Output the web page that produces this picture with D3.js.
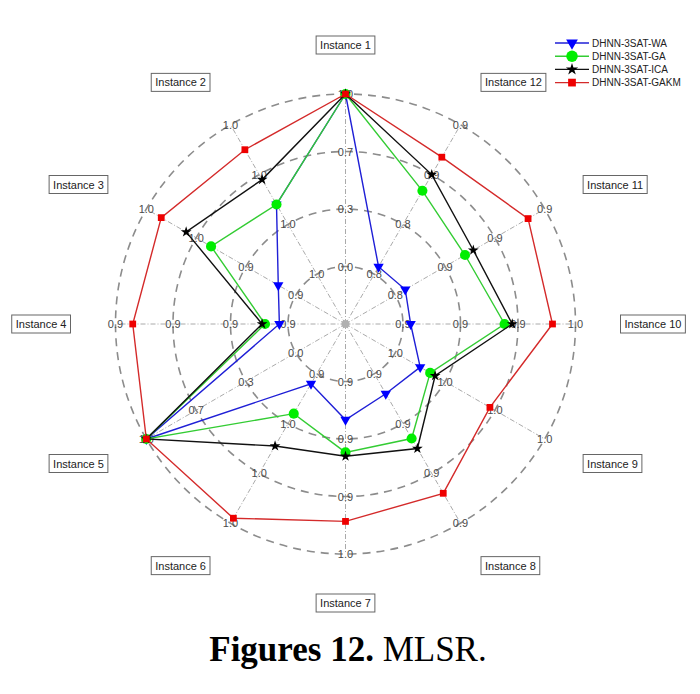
<!DOCTYPE html>
<html>
<head>
<meta charset="utf-8">
<script src="https://cdn.jsdelivr.net/npm/d3@7"></script>
<style>
  body { margin: 0; background: #fff; }
  text { font-family: "Liberation Sans", Arial, sans-serif; }
</style>
</head>
<body>
<svg></svg>
<script>
/* data */
var instances = ["Instance 1", "Instance 2", "Instance 3", "Instance 4", "Instance 5", "Instance 6",
                 "Instance 7", "Instance 8", "Instance 9", "Instance 10", "Instance 11", "Instance 12"];
var axisMin = [0.00, 0.97, 0.92, 0.88, 0.00, 0.94, 0.87, 0.86, 0.97, 0.88, 0.84, 0.78];
var axisMax = [1.00, 1.00, 0.98, 0.94, 1.00, 1.00, 0.96, 0.92, 1.00, 0.97, 0.93, 0.90];
var tickLabels = [
  ["0.0", "0.3", "0.7", "1.0"],
  ["1.0", "1.0", "1.0", "1.0"],
  ["0.9", "0.9", "1.0", "1.0"],
  ["0.9", "0.9", "0.9", "0.9"],
  ["0.0", "0.3", "0.7", "1.0"],
  ["0.9", "1.0", "1.0", "1.0"],
  ["0.9", "0.9", "0.9", "1.0"],
  ["0.9", "0.9", "0.9", "0.9"],
  ["1.0", "1.0", "1.0", "1.0"],
  ["0.9", "0.9", "0.9", "1.0"],
  ["0.8", "0.9", "0.9", "0.9"],
  ["0.8", "0.8", "0.9", "0.9"]
];
var seriesNames = ["DHNN-3SAT-WA", "DHNN-3SAT-GA", "DHNN-3SAT-ICA", "DHNN-3SAT-GAKM"];
var waValues   = [1.0, 0.984, 0.927, 0.883, 1.0, 0.944, 0.890, 0.868, 0.975, 0.884, 0.846, 0.786];
var gaValues   = [1.0, 0.984, 0.954, 0.888, 1.0, 0.956, 0.907, 0.886, 0.977, 0.933, 0.882, 0.847];
var icaValues  = [1.0, 0.989, 0.964, 0.889, 1.0, 0.969, 0.909, 0.890, 0.978, 0.937, 0.887, 0.860];
var gakmValues = [1.0, 0.995, 0.974, 0.934, 1.0, 0.998, 0.943, 0.908, 0.989, 0.958, 0.920, 0.874];

/* layout */
var svgWidth = 700, svgHeight = 694;
var cx = 345.5, cy = 324, R = 230;
var nAxes = instances.length;
var step = 2 * Math.PI / nAxes;

var styles = [
  {line: "#1f1fd6", fill: "#0000ff", symbol: d3.symbolTriangle, size: 46, rotate: 180},
  {line: "#33cc33", fill: "#00ee00", symbol: d3.symbolCircle, size: 80, rotate: 0},
  {line: "#111111", fill: "#000000", symbol: d3.symbolStar, size: 36, rotate: 0},
  {line: "#d42a2a", fill: "#ee0000", symbol: d3.symbolSquare, size: 46, rotate: 0}
];
var series = [waValues, gaValues, icaValues, gakmValues];

var svg = d3.select("svg")
    .attr("width", svgWidth)
    .attr("height", svgHeight);

/* one radial scale per axis: first ring = min, outer ring = max, centre one interval below */
var scales = axisMin.map(function(mn, i) {
  var mx = axisMax[i];
  return d3.scaleLinear().domain([mn - (mx - mn) / 3, mx]).range([0, R]);
});

function angleOf(i) { return Math.PI / 2 + i * step; }
function px(i, r) { return cx + r * Math.cos(angleOf(i)); }
function py(i, r) { return cy - r * Math.sin(angleOf(i)); }

var g = svg.append("g");

/* spokes */
g.selectAll(".spoke")
  .data(instances)
  .enter().append("line")
    .attr("x1", cx).attr("y1", cy)
    .attr("x2", function(d, i) { return px(i, R); })
    .attr("y2", function(d, i) { return py(i, R); })
    .attr("stroke", "#a0a0a0")
    .attr("stroke-width", 0.9)
    .attr("stroke-dasharray", "5,2,1,2");

/* rings */
var ringLevels = [1, 2, 3, 4];
g.selectAll(".ring")
  .data(ringLevels)
  .enter().append("circle")
    .attr("cx", cx).attr("cy", cy)
    .attr("r", function(d) { return R * d / 4; })
    .attr("fill", "none")
    .attr("stroke", "#8c8c8c")
    .attr("stroke-width", 1.6)
    .attr("stroke-dasharray", "8,6");

g.append("circle")
    .attr("cx", cx).attr("cy", cy).attr("r", 4)
    .attr("fill", "#b0b0b0");

/* tick labels on every axis */
instances.forEach(function(name, i) {
  tickLabels[i].forEach(function(lbl, k) {
    var r = R * (k + 1) / 4;
    g.append("text")
      .attr("x", px(i, r))
      .attr("y", py(i, r))
      .attr("text-anchor", "middle")
      .attr("dominant-baseline", "central")
      .attr("font-size", 11)
      .attr("fill", "#4a4a4a")
      .text(lbl);
  });
});

/* series */
var line = d3.lineRadial()
    .angle(function(d, i) { return -i * step; })
    .radius(function(d, i) { return scales[i](d); })
    .curve(d3.curveLinearClosed);

var plot = svg.append("g").attr("transform", translate(cx, cy));
series.forEach(function(vals, s) {
  var st = styles[s];
  plot.append("path")
      .attr("d", line(vals))
      .attr("fill", "none")
      .attr("stroke", st.line)
      .attr("stroke-width", 1.4);
  plot.selectAll(".m" + s)
    .data(vals)
    .enter().append("path")
      .attr("d", d3.symbol().type(st.symbol).size(st.size))
      .attr("fill", st.fill)
      .attr("transform", function(d, i) {
        var r = scales[i](d);
        var a = angleOf(i);
        return translate(r * Math.cos(a), -r * Math.sin(a)) + " rotate(" + st.rotate + ")";
      });
});

/* instance labels in boxes */
var labelR = 279;
instances.forEach(function(name, i) {
  var a = angleOf(i);
  var c = Math.cos(a);
  var anchor = Math.abs(c) < 0.01 ? "middle" : (c > 0 ? "start" : "end");
  var t = svg.append("text")
      .attr("x", px(i, labelR))
      .attr("y", py(i, labelR))
      .attr("text-anchor", anchor)
      .attr("dominant-baseline", "central")
      .attr("font-size", 11)
      .attr("fill", "#222")
      .text(name);
  var bb = t.node().getBBox();
  svg.insert("rect", function() { return t.node(); })
      .attr("x", bb.x - 4).attr("y", bb.y - 3)
      .attr("width", bb.width + 8).attr("height", bb.height + 6)
      .attr("fill", "#fff")
      .attr("stroke", "#666")
      .attr("stroke-width", 1);
});

/* legend */
var legend = svg.append("g").attr("transform", translate(555, 43));
seriesNames.forEach(function(name, s) {
  var st = styles[s];
  var row = legend.append("g").attr("transform", translate(0, s * 13.2));
  row.append("line")
      .attr("x1", 0).attr("x2", 34)
      .attr("stroke", st.line).attr("stroke-width", 1.4);
  row.append("path")
      .attr("d", d3.symbol().type(st.symbol).size(st.size * 1.3))
      .attr("fill", st.fill)
      .attr("transform", translate(17, 0) + " rotate(" + st.rotate + ")");
  row.append("text")
      .attr("x", 37).attr("y", 0)
      .attr("dominant-baseline", "central")
      .attr("font-size", 10)
      .attr("fill", "#222")
      .text(name);
});

/* caption */
var caption = svg.append("text")
    .attr("x", 348).attr("y", 661)
    .attr("text-anchor", "middle")
    .style("font-family", "'Liberation Serif', 'Times New Roman', serif")
    .attr("font-size", 35)
    .attr("fill", "#000");
caption.append("tspan").attr("font-weight", "bold").text("Figures 12.");
caption.append("tspan").text(" MLSR.");

function translate(x, y) {
  return "translate(" + x + "," + y + ")";
}
</script>
</body>
</html>
